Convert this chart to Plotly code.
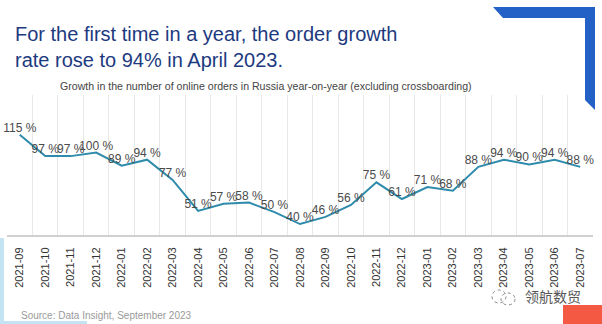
import plotly.graph_objects as go

# ---- data ----
months = ["2021-09", "2021-10", "2021-11", "2021-12", "2022-01", "2022-02", "2022-03",
          "2022-04", "2022-05", "2022-06", "2022-07", "2022-08", "2022-09", "2022-10",
          "2022-11", "2022-12", "2023-01", "2023-02", "2023-03", "2023-04", "2023-05",
          "2023-06", "2023-07"]
growth = [115, 97, 97, 100, 89, 94, 77, 51, 57, 58, 50, 40, 46, 56, 75, 61, 71, 68,
          88, 94, 90, 94, 88]
labels = [f"{v} %" for v in growth]

title_lines = ["For the first time in a year, the order growth",
               "rate rose to 94% in April 2023."]
subtitle = "Growth in the number of online orders in Russia year-on-year (excluding crossboarding)"
source = "Source: Data Insight, September 2023"
watermark = "领航数贸"

# ---- geometry (pixels) ----
W, H = 602, 324
L, R, T, B = 7, 9, 95, 89
PW, PH = W - L - R, H - T - B


def fx(px):
    return (px - L) / PW


def fy(py):
    return (H - B - py) / PH


fig = go.Figure()
fig.add_trace(go.Scatter(
    x=months, y=growth, mode="lines+text", text=labels,
    textposition="top center",
    textfont=dict(family="Liberation Sans, Arial, sans-serif", size=12, color="#4a4a4a"),
    line=dict(color="#2e8bab", width=2),
    cliponaxis=False, hoverinfo="skip",
))

shapes = []
blue = "#2461c7"
# top-right blue corner decoration
shapes.append(dict(type="path", xref="paper", yref="paper",
                   path=f"M {fx(493)},{fy(7)} L {fx(595)},{fy(7)} L {fx(595)},{fy(110)} "
                        f"L {fx(585)},{fy(100)} L {fx(585)},{fy(18)} L {fx(503)},{fy(18)} Z",
                   fillcolor=blue, line=dict(width=0), layer="above"))
# light blue strip at left bottom
lb = "#c4e4f3"
shapes.append(dict(type="rect", xref="paper", yref="paper",
                   x0=fx(0), x1=fx(4), y0=fy(324), y1=fy(238),
                   fillcolor=lb, line=dict(width=0)))
shapes.append(dict(type="rect", xref="paper", yref="paper",
                   x0=fx(0), x1=fx(87), y0=fy(324), y1=fy(321),
                   fillcolor=lb, line=dict(width=0)))
# red block bottom right
shapes.append(dict(type="rect", xref="paper", yref="paper",
                   x0=fx(563), x1=fx(602), y0=fy(324), y1=fy(305),
                   fillcolor="#f45a43", line=dict(width=0)))
# watermark icon (two bubbles)
shapes.append(dict(type="circle", xref="paper", yref="paper",
                   x0=fx(492), x1=fx(506), y0=fy(303), y1=fy(290),
                   line=dict(color="#888", width=1, dash="dot")))
shapes.append(dict(type="circle", xref="paper", yref="paper",
                   x0=fx(501), x1=fx(515), y0=fy(305), y1=fy(293),
                   line=dict(color="#888", width=1, dash="dot")))

annotations = [
    dict(text="<br>".join(title_lines), xref="paper", yref="paper",
         x=fx(13), y=fy(21), xanchor="left", yanchor="top", align="left",
         showarrow=False,
         font=dict(family="Liberation Sans, Arial, sans-serif", size=20, color="#1d3a80")),
    dict(text=subtitle, xref="paper", yref="paper",
         x=fx(58), y=fy(86), xanchor="left", yanchor="middle", showarrow=False,
         font=dict(family="Liberation Sans, Arial, sans-serif", size=10.6, color="#444")),
    dict(text=source, xref="paper", yref="paper",
         x=fx(19), y=fy(315), xanchor="left", yanchor="middle", showarrow=False,
         font=dict(family="Liberation Sans, Arial, sans-serif", size=10, color="#9a9a9a")),
    dict(text=watermark, xref="paper", yref="paper",
         x=fx(523), y=fy(296), xanchor="left", yanchor="middle", showarrow=False,
         font=dict(family="Noto Sans CJK SC", size=14, color="#555")),
]

fig.update_layout(
    width=W, height=H,
    margin=dict(l=L, r=R, t=T, b=B, pad=0),
    paper_bgcolor="white", plot_bgcolor="white",
    showlegend=False,
    shapes=shapes, annotations=annotations,
    xaxis=dict(type="category", tickson="boundaries", showgrid=True,
               range=[-0.5, len(months) - 0.5],
               gridcolor="#e8e8e8", gridwidth=1,
               showline=True, linecolor="#d0d0d0", linewidth=2,
               ticks="", tickangle=-90, ticklabelstandoff=6,
               tickfont=dict(family="Liberation Sans, Arial, sans-serif", size=11, color="#333"),
               fixedrange=True),
    yaxis=dict(range=[30.8, 148.3], showgrid=False, showticklabels=False,
               zeroline=False, showline=False, fixedrange=True),
)

fig.write_html("out.html")
